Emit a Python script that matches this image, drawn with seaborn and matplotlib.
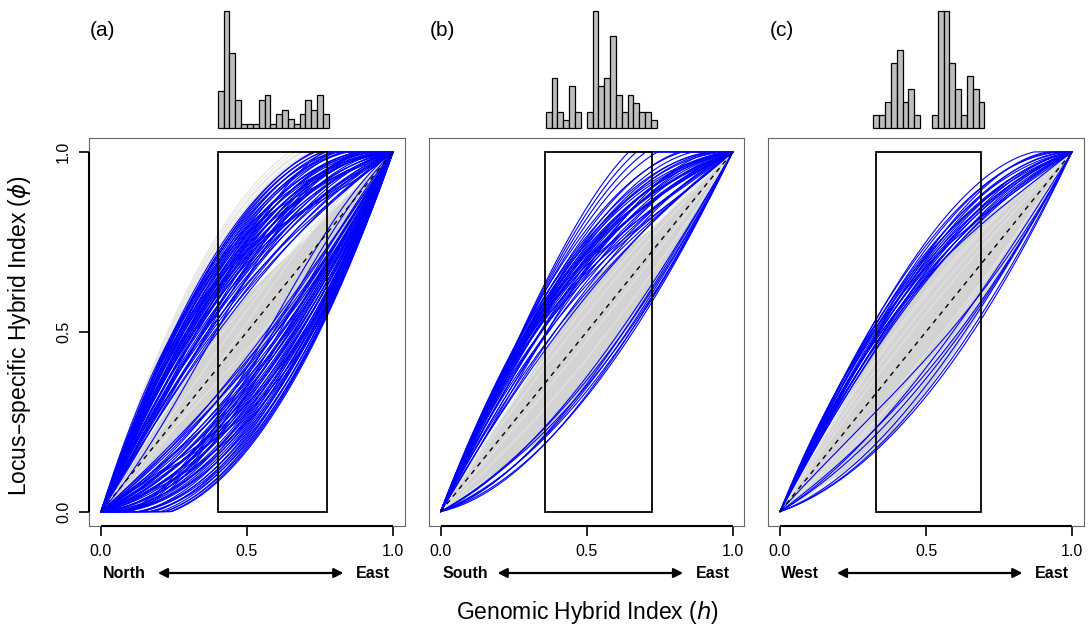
import numpy as np
import pandas as pd
import seaborn as sns
import matplotlib.pyplot as plt
from matplotlib.patches import Rectangle
from matplotlib.transforms import blended_transform_factory

sns.set_style('ticks')
plt.rcParams['font.family'] = ['Liberation Sans', 'DejaVu Sans']
plt.rcParams['text.color'] = 'black'
plt.rcParams['xtick.color'] = 'black'
plt.rcParams['ytick.color'] = 'black'

# ---- data ----
panel_tags = ['(a)', '(b)', '(c)']
left_names = ['North', 'South', 'West']
right_name = 'East'

# histogram of genomic hybrid index, bins of 0.02
hist_start = [0.40, 0.36, 0.32]
hist_a = [8, 25, 16, 6, 1, 1, 1, 6, 7, 1, 3, 4, 2, 1, 3, 6, 4, 7, 3]
hist_b = [2, 6, 2, 1, 5, 2, 0, 2, 14, 5, 6, 11, 4, 2, 4, 3, 2, 2, 1]
hist_c = [1, 1, 2, 5, 6, 2, 3, 1, 0, 0, 1, 9, 9, 5, 3, 1, 4, 3, 2]

# range of h (rectangle)
h_min = [0.40, 0.358, 0.329]
h_max = [0.775, 0.722, 0.687]

# neutral envelope (grey polygon)
lens_h_a = [0, 0.40, 0.50, 0.60, 0.70, 0.775, 1]
lens_hi_a = [0, 0.51, 0.605, 0.685, 0.76, 0.83, 1]
lens_lo_a = [0, 0.30, 0.40, 0.50, 0.60, 0.68, 1]
lens_h_b = [0, 0.358, 0.45, 0.544, 0.63, 0.722, 1]
lens_hi_b = [0, 0.45, 0.565, 0.667, 0.73, 0.79, 1]
lens_lo_b = [0, 0.21, 0.30, 0.40, 0.50, 0.605, 1]
lens_h_c = [0, 0.329, 0.42, 0.50, 0.60, 0.687, 1]
lens_hi_c = [0, 0.46, 0.57, 0.655, 0.74, 0.81, 1]
lens_lo_c = [0, 0.17, 0.25, 0.335, 0.45, 0.56, 1]

# cline parameters (alpha, beta) per locus
alpha_a = [0.21, 0.23, 0.24, 0.26, 0.27, 0.29, 0.30, 0.31, 0.33, 0.34,
           0.35, 0.36, 0.37, 0.38, 0.39, 0.40, 0.41, 0.42, 0.43, 0.44,
           0.45, 0.45, 0.46, 0.47, 0.48, 0.48, 0.49, 0.50, 0.51, 0.51,
           0.52, 0.53, 0.54, 0.54, 0.55, 0.56, 0.57, 0.58, 0.59, 0.60,
           0.61, 0.62, 0.63, 0.64, 0.65, 0.66, 0.67, 0.68, 0.36, 0.42,
           0.50, 0.55, 0.30, 0.45, 0.40, 0.58,
           -0.14, -0.16, -0.17, -0.19, -0.20, -0.22, -0.23, -0.24, -0.26, -0.27,
           -0.28, -0.29, -0.30, -0.31, -0.32, -0.33, -0.34, -0.35, -0.36, -0.37,
           -0.38, -0.39, -0.40, -0.41, -0.42, -0.43, -0.44, -0.45, -0.46, -0.47,
           -0.48, -0.49, -0.50, -0.51, -0.52, -0.53, -0.54, -0.55, -0.56, -0.57,
           -0.58, -0.59, -0.60, -0.61, -0.62, -0.63, -0.64, -0.65, -0.66, -0.30,
           -0.40, -0.25, -0.45, -0.35, -0.50, -0.20]
beta_a = [0.02, -0.04, 0.06, 0.00, -0.08, 0.05, 0.10, -0.03, 0.00, 0.07,
          -0.06, 0.03, 0.12, -0.10, 0.00, 0.04, -0.05, 0.08, 0.00, -0.02,
          0.10, -0.08, 0.03, 0.00, 0.06, -0.12, 0.02, 0.00, 0.08, -0.05,
          0.04, 0.00, -0.07, 0.10, 0.02, 0.00, -0.04, 0.06, 0.00, 0.03,
          -0.02, 0.05, 0.00, -0.03, 0.02, 0.00, 0.04, 0.00, 0.25, -0.20,
          0.30, -0.25, 0.35, -0.30, 0.20, -0.15,
          0.05, -0.03, 0.08, 0.00, -0.06, 0.04, 0.10, -0.02, 0.00, 0.06,
          -0.08, 0.03, 0.00, 0.07, -0.04, 0.02, 0.09, 0.00, -0.05, 0.04,
          0.00, 0.08, -0.03, 0.05, 0.00, -0.06, 0.03, 0.07, 0.00, -0.02,
          0.05, 0.00, 0.04, -0.03, 0.02, 0.06, 0.00, -0.04, 0.03, 0.00,
          0.05, -0.02, 0.00, 0.03, -0.03, 0.02, 0.00, 0.01, 0.00, 0.30,
          -0.20, 0.35, -0.25, 0.25, -0.15, 0.40]

alpha_b = [0.20, 0.22, 0.24, 0.26, 0.28, 0.30, 0.31, 0.32, 0.33, 0.34,
           0.35, 0.36, 0.37, 0.38, 0.38, 0.39, 0.40, 0.41, 0.41, 0.42,
           0.43, 0.44, 0.44, 0.45, 0.46, 0.47, 0.48, 0.49, 0.50, 0.51,
           0.52, 0.53, 0.55, 0.57, 0.60, 0.63, 0.66, 0.69, 0.40, 0.45,
           0.35, 0.50,
           -0.25, -0.27, -0.29, -0.30, -0.31, -0.33, -0.35, -0.36]
beta_b = [0.00, -0.05, 0.05, -0.10, 0.00, -0.15, 0.05, -0.08, -0.20, 0.00,
          -0.12, 0.04, -0.18, -0.05, 0.08, -0.10, -0.12, 0.00, -0.14, 0.06,
          -0.08, -0.08, 0.02, -0.12, -0.04, -0.06, 0.05, -0.05, 0.00, -0.06,
          0.08, 0.00, 0.10, 0.05, 0.15, 0.20, 0.25, 0.30, -0.10, 0.00,
          0.20, 0.05,
          0.05, 0.00, 0.08, -0.03, 0.04, 0.00, 0.06, 0.02]

alpha_c = [0.28, 0.29, 0.30, 0.31, 0.32, 0.33, 0.34, 0.35, 0.36, 0.37,
           0.38, 0.39, 0.40, 0.41, 0.42, 0.43, 0.44, 0.46, 0.48, 0.50,
           0.30, 0.36, 0.42,
           -0.15, -0.20, -0.23, -0.26, -0.30, -0.34, -0.36]
beta_c = [0.02, -0.03, 0.05, 0.00, -0.05, 0.04, 0.08, -0.02, 0.00, 0.06,
          -0.04, 0.03, 0.10, 0.00, -0.06, 0.05, 0.00, 0.08, 0.04, 0.10,
          -0.12, -0.15, 0.15,
          -0.10, 0.05, -0.03, 0.00, 0.05, 0.02, 0.00]

# non-significant loci (light grey)
alpha_a_ns = [0.69, 0.70, 0.72, 0.73, 0.75, 0.77, 0.12, -0.10, 0.16, -0.14, 0.05]
beta_a_ns = [0.00, 0.00, 0.00, 0.00, 0.00, 0.00, 0.10, -0.10, -0.05, 0.05, 0.20]
alpha_b_ns = [0.10, -0.05, 0.15, -0.15]
beta_b_ns = [0.00, 0.00, 0.00, 0.00]
alpha_c_ns = [-0.12, -0.16, -0.18, -0.20, -0.22, -0.24, -0.27, -0.30, 0.10, 0.15, 0.20, 0.22]
beta_c_ns = [0.00, 0.05, -0.04, 0.02, 0.00, 0.06, -0.02, 0.03, 0.00, 0.00, 0.00, 0.00]

h_grid = np.linspace(0, 1, 201)


def cline_frame(alphas, betas):
    parts = []
    for i, (a, b) in enumerate(zip(alphas, betas)):
        phi = h_grid + 2 * (h_grid - h_grid ** 2) * (a + b * (2 * h_grid - 1))
        parts.append(pd.DataFrame({'h': h_grid, 'phi': np.clip(phi, 0, 1), 'locus': i}))
    return pd.concat(parts, ignore_index=True)


panels = [
    dict(hist=hist_a, lens=(lens_h_a, lens_lo_a, lens_hi_a), sig=(alpha_a, beta_a), ns=(alpha_a_ns, beta_a_ns)),
    dict(hist=hist_b, lens=(lens_h_b, lens_lo_b, lens_hi_b), sig=(alpha_b, beta_b), ns=(alpha_b_ns, beta_b_ns)),
    dict(hist=hist_c, lens=(lens_h_c, lens_lo_c, lens_hi_c), sig=(alpha_c, beta_c), ns=(alpha_c_ns, beta_c_ns)),
]

W, H = 1089, 629
fig = plt.figure(figsize=(W / 100, H / 100), dpi=100)
lefts = [89.3, 429.0, 768.3]
ax_w, box_top, box_bot = 315.4, 137.5, 526.0
lim = (-0.04, 1.04)

for i, p in enumerate(panels):
    ax = fig.add_axes([lefts[i] / W, 1 - box_bot / H, ax_w / W, (box_bot - box_top) / H])
    lh, llo, lhi = p['lens']
    ax.fill_between(lh, llo, lhi, color='#d3d3d3', lw=0, zorder=1)

    ns = cline_frame(*p['ns'])
    sns.lineplot(data=ns, x='h', y='phi', units='locus', estimator=None, sort=False,
                 color='#e3e3e3', linewidth=0.8, ax=ax, zorder=2, legend=False)
    sig = cline_frame(*p['sig'])
    sns.lineplot(data=sig, x='h', y='phi', units='locus', estimator=None, sort=False,
                 color='#0000ff', linewidth=0.8, ax=ax, zorder=3, legend=False)

    ax.plot([0, 1], [0, 1], color='black', ls=(0, (3.5, 3.5)), lw=1.0, zorder=4)
    ax.add_patch(Rectangle((h_min[i], 0), h_max[i] - h_min[i], 1, fill=False,
                           ec='black', lw=1.3, zorder=5))

    ax.set_xlim(lim)
    ax.set_ylim(lim)
    ax.set_xlabel('')
    ax.set_ylabel('')
    for s in ax.spines.values():
        s.set_color('#666666')
        s.set_linewidth(0.8)
    ax.set_xticks([0, 0.5, 1])
    ax.set_xticklabels(['0.0', '0.5', '1.0'])
    ax.tick_params(axis='x', direction='out', length=7, width=1.2, pad=6,
                   labelsize=11.5, colors='black')
    ax.plot([0, 1], [lim[0], lim[0]], color='black', lw=1.5, clip_on=False,
            solid_capstyle='butt', zorder=6)
    if i == 0:
        ax.set_yticks([0, 0.5, 1])
        ax.set_yticklabels(['0.0', '0.5', '1.0'], rotation=90, va='center')
        ax.tick_params(axis='y', direction='out', length=7, width=1.2, pad=6,
                       labelsize=11.5, colors='black')
        ax.plot([lim[0], lim[0]], [0, 1], color='black', lw=1.5, clip_on=False,
                solid_capstyle='butt', zorder=6)
    else:
        ax.set_yticks([])

    trans = blended_transform_factory(ax.transData, fig.transFigure)
    yb = 1 - 573 / H
    ax.text(0.005, yb, left_names[i], transform=trans, ha='left', va='center',
            fontsize=11.5, fontweight='bold', color='black')
    ax.text(0.99, yb, right_name, transform=trans, ha='right', va='center',
            fontsize=11.5, fontweight='bold', color='black')
    ax.annotate('', xy=(0.83, yb), xytext=(0.195, yb), xycoords=trans, textcoords=trans,
                arrowprops=dict(arrowstyle='<|-|>,head_length=0.55,head_width=0.28',
                                color='black', lw=1.6, shrinkA=0, shrinkB=0))
    ax.text(0.005, 1 - 31 / H, panel_tags[i], transform=trans, ha='center', va='center',
            fontsize=15, color='black')

    # histogram of hybrid indices above the panel
    hax = fig.add_axes([lefts[i] / W, 1 - 128.3 / H, ax_w / W, 117.3 / H])
    counts = p['hist']
    edges = hist_start[i] + 0.02 * np.arange(len(counts) + 1)
    hist_df = pd.DataFrame({'h': (edges[:-1] + edges[1:]) / 2, 'n': counts})
    sns.histplot(data=hist_df, x='h', weights='n', binwidth=0.02,
                 binrange=(float(edges[0]), float(edges[-1])), color='#bebebe',
                 edgecolor='black', linewidth=0.9, alpha=1, ax=hax)
    for bar in hax.patches:
        bar.set_clip_on(False)
        if bar.get_height() == 0:
            bar.set_visible(False)
    hax.set_xlim(lim)
    hax.set_ylim(0, max(counts))
    hax.axis('off')

fig.text(20 / W, 1 - 336 / H, 'Locus\u2013specific Hybrid Index ($\\phi$)', rotation=90,
         ha='center', va='center', fontsize=16.5, color='black')
fig.text(587 / W, 1 - 612 / H, 'Genomic Hybrid Index ($h$)', ha='center', va='center',
         fontsize=16.5, color='black')

fig.savefig('out.png', dpi=100)
